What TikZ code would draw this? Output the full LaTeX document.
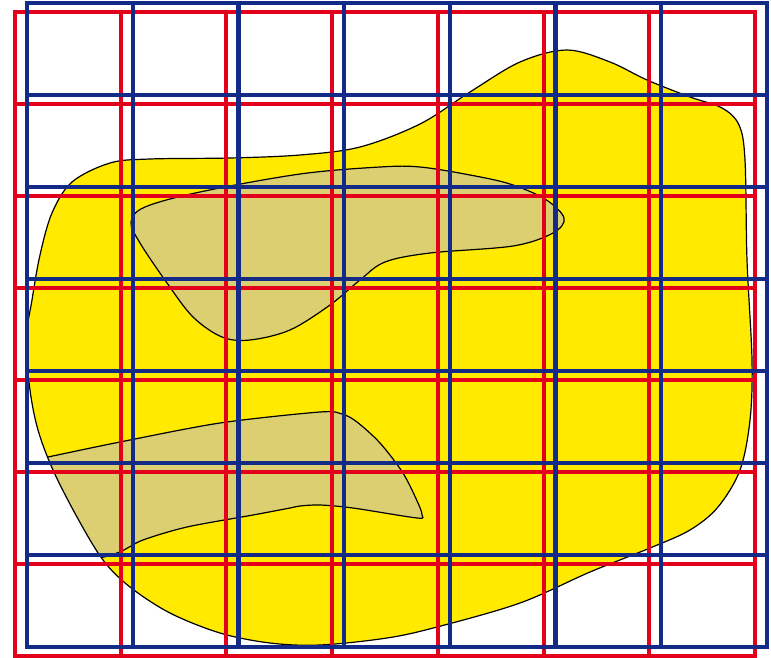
\documentclass[tikz,border=0pt]{standalone}
\begin{document}
\begin{tikzpicture}[x=1pt,y=-1pt,
  outline/.style={draw=black,line width=1.2pt,line join=round},
  redline/.style={draw=gridred,line width=4pt,line cap=rect},
  blueline/.style={draw=gridblue,line width=4.2pt,line cap=rect}]
\definecolor{blobyellow}{HTML}{FFEA00}
\definecolor{olive}{HTML}{DBCF72}
\definecolor{gridred}{HTML}{E3001B}
\definecolor{gridblue}{HTML}{132B86}
\useasboundingbox (0,0) rectangle (771,658);
\def\blob{plot[smooth cycle,tension=0.55] coordinates {
 (26,340) (32,300) (40,255) (52,213) (72,182) (110,163) (150,159) (230,158) (300,155)
 (360,147) (420,124) (470,92) (520,62) (567,50) (610,62) (647,80) (690,97) (722,108)
 (739,125) (745,160) (747,260) (752,360) (750,420) (740,470) (718,507) (690,530)
 (650,548) (590,572) (520,603) (437,627) (387,638) (320,645) (270,643) (220,633)
 (170,613) (130,587) (103,560) (77,517) (53,470) (38,430) (30,390)}}
% yellow blob
\fill[blobyellow] \blob;
% upper olive region
\filldraw[fill=olive,outline] plot[smooth cycle,tension=0.55] coordinates {
 (131,222) (145,207) (200,192) (300,174) (380,167) (420,167) (470,175) (510,184)
 (545,199) (564,218) (553,233) (513,246) (430,253) (385,262) (360,280) (330,305)
 (290,330) (250,340) (222,337) (193,317) (167,283) (140,243)};
% lower olive region, clipped by the blob
\begin{scope}
\clip \blob;
\filldraw[fill=olive,outline] (10,465) -- plot[smooth,tension=0.5] coordinates {
 (48,457) (120,442) (220,423) (320,412) (342,414) (357,422) (380,443) (403,473)
 (418,503) (422,515) (417,518) (353,508) (320,505) (300,506) (290,508) (253,515)
 (187,527) (143,540) (122,551) (104,557) (80,560)} -- (10,562) -- cycle;
\end{scope}
\draw[outline] \blob;
% red grid
\foreach \i in {0,...,7}{
  \draw[redline] (15+\i*105.714,12.5) -- (15+\i*105.714,656);
  \draw[redline] (15,12.5+\i*91.93) -- (755,12.5+\i*91.93);
}
% blue grid
\foreach \i in {0,...,7}{
  \draw[blueline] (27+\i*105.714,3) -- (27+\i*105.714,647);
  \draw[blueline] (27,3+\i*92) -- (767,3+\i*92);
}
\end{tikzpicture}
\end{document}
